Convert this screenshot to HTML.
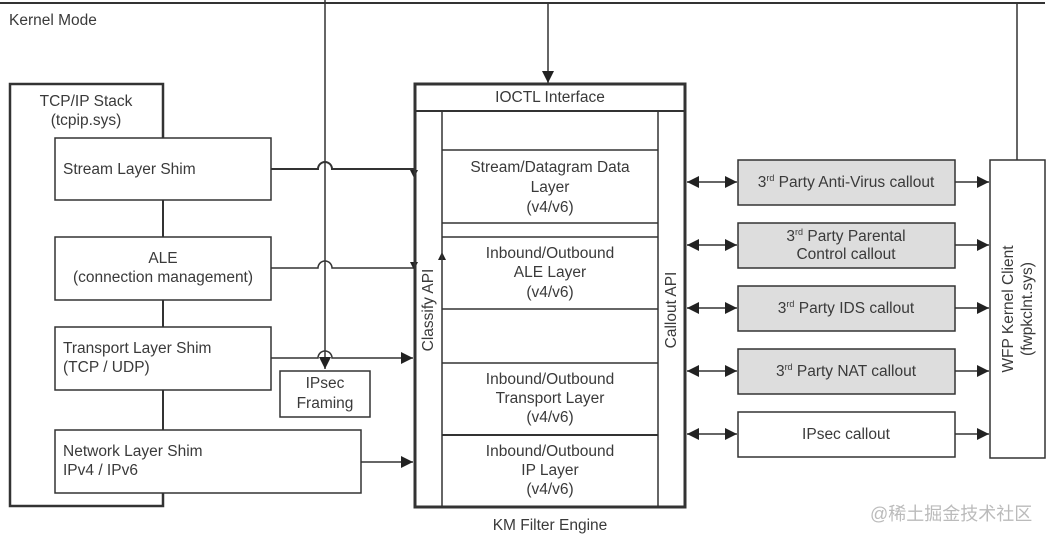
<!DOCTYPE html>
<html><head><meta charset="utf-8"><style>
html,body{margin:0;padding:0;background:#fff;width:1049px;height:541px;overflow:hidden}
svg text{font-family:"Liberation Sans","Noto Sans CJK SC",sans-serif;fill:#3a3a3a;font-size:15.5px}
</style></head><body>
<svg width="1049" height="541" viewBox="0 0 1049 541" xmlns="http://www.w3.org/2000/svg">
<defs>
<marker id="a" viewBox="0 0 10 10" refX="10" refY="5" markerWidth="8" markerHeight="8" orient="auto-start-reverse"><path d="M0,0L10,5L0,10z" fill="#222"/></marker>
</defs>
<g stroke="#333" fill="none">
<line x1="0" y1="3" x2="1045" y2="3" stroke-width="2"/>
<path d="M163,138V84H10V506H163V493" stroke-width="2.5"/>
<line x1="163" y1="200" x2="163" y2="237" stroke-width="2"/>
<line x1="163" y1="300" x2="163" y2="327" stroke-width="2"/>
<line x1="163" y1="390" x2="163" y2="430" stroke-width="2"/>
<rect x="55" y="138" width="216" height="62" stroke-width="1.5"/>
<rect x="55" y="237" width="216" height="63" stroke-width="1.5"/>
<rect x="55" y="327" width="216" height="63" stroke-width="1.5"/>
<rect x="280" y="371" width="90" height="46" stroke-width="1.5"/>
<rect x="55" y="430" width="306" height="63" stroke-width="1.5"/>
<line x1="325" y1="0" x2="325" y2="369" stroke-width="1.5" marker-end="url(#a)"/>
<line x1="548" y1="3" x2="548" y2="83" stroke-width="1.5" marker-end="url(#a)"/>
<line x1="1017" y1="3" x2="1017" y2="160" stroke-width="1.5"/>
<path d="M271,169H318A7,7 0 0 1 332,169H414" stroke-width="2"/>
<path d="M271,268H318A7,7 0 0 1 332,268H414" stroke-width="1.5"/>
<path d="M271,358H318A7,7 0 0 1 332,358H413" stroke-width="1.5" marker-end="url(#a)"/>
<line x1="361" y1="462" x2="413" y2="462" stroke-width="1.5" marker-end="url(#a)"/>
<line x1="414" y1="169" x2="414" y2="178" stroke-width="1" marker-end="url(#a)"/>
<line x1="414" y1="262" x2="414" y2="270" stroke-width="1" marker-end="url(#a)"/>
<line x1="442" y1="272" x2="442" y2="252" stroke-width="1" marker-end="url(#a)"/>
<rect x="415" y="84" width="270" height="423" stroke-width="3"/>
<line x1="415" y1="111" x2="685" y2="111" stroke-width="2"/>
<line x1="442" y1="111" x2="442" y2="507" stroke-width="1.5"/>
<line x1="658" y1="111" x2="658" y2="507" stroke-width="1.5"/>
<line x1="442" y1="150" x2="658" y2="150" stroke-width="1.5"/>
<line x1="442" y1="223" x2="658" y2="223" stroke-width="1.5"/>
<line x1="442" y1="237" x2="658" y2="237" stroke-width="1.5"/>
<line x1="442" y1="309" x2="658" y2="309" stroke-width="1.5"/>
<line x1="442" y1="363" x2="658" y2="363" stroke-width="1.5"/>
<line x1="442" y1="435" x2="658" y2="435" stroke-width="2"/>
<g stroke-width="1.5">
<rect x="738" y="160" width="217" height="45" fill="#ddd"/>
<rect x="738" y="223" width="217" height="45" fill="#ddd"/>
<rect x="738" y="286" width="217" height="45" fill="#ddd"/>
<rect x="738" y="349" width="217" height="45" fill="#ddd"/>
<rect x="738" y="412" width="217" height="45" fill="#fff"/>
<rect x="990" y="160" width="55" height="298" fill="#fff"/>
</g>
<g stroke-width="1.5">
<line x1="687" y1="182" x2="737" y2="182" marker-start="url(#a)" marker-end="url(#a)"/>
<line x1="687" y1="245" x2="737" y2="245" marker-start="url(#a)" marker-end="url(#a)"/>
<line x1="687" y1="308" x2="737" y2="308" marker-start="url(#a)" marker-end="url(#a)"/>
<line x1="687" y1="371" x2="737" y2="371" marker-start="url(#a)" marker-end="url(#a)"/>
<line x1="687" y1="434" x2="737" y2="434" marker-start="url(#a)" marker-end="url(#a)"/>
<line x1="955" y1="182" x2="989" y2="182" marker-end="url(#a)"/>
<line x1="955" y1="245" x2="989" y2="245" marker-end="url(#a)"/>
<line x1="955" y1="308" x2="989" y2="308" marker-end="url(#a)"/>
<line x1="955" y1="371" x2="989" y2="371" marker-end="url(#a)"/>
<line x1="955" y1="434" x2="989" y2="434" marker-end="url(#a)"/>
</g>
</g>
<text x="9" y="25">Kernel Mode</text>
<text x="86" y="106" text-anchor="middle">TCP/IP Stack</text>
<text x="86" y="125" text-anchor="middle">(tcpip.sys)</text>
<text x="63" y="174">Stream Layer Shim</text>
<text x="163" y="263" text-anchor="middle">ALE</text>
<text x="163" y="282" text-anchor="middle">(connection management)</text>
<text x="63" y="353">Transport Layer Shim</text>
<text x="63" y="372">(TCP / UDP)</text>
<text x="325" y="388" text-anchor="middle">IPsec</text>
<text x="325" y="408" text-anchor="middle">Framing</text>
<text x="63" y="456">Network Layer Shim</text>
<text x="63" y="475">IPv4 / IPv6</text>
<text x="550" y="102" text-anchor="middle">IOCTL Interface</text>
<text x="550" y="172" text-anchor="middle">Stream/Datagram Data</text>
<text x="550" y="192" text-anchor="middle">Layer</text>
<text x="550" y="212" text-anchor="middle">(v4/v6)</text>
<text x="550" y="258" text-anchor="middle">Inbound/Outbound</text>
<text x="550" y="277" text-anchor="middle">ALE Layer</text>
<text x="550" y="297" text-anchor="middle">(v4/v6)</text>
<text x="550" y="384" text-anchor="middle">Inbound/Outbound</text>
<text x="550" y="403" text-anchor="middle">Transport Layer</text>
<text x="550" y="422" text-anchor="middle">(v4/v6)</text>
<text x="550" y="456" text-anchor="middle">Inbound/Outbound</text>
<text x="550" y="475" text-anchor="middle">IP Layer</text>
<text x="550" y="494" text-anchor="middle">(v4/v6)</text>
<text x="550" y="530" text-anchor="middle">KM Filter Engine</text>
<text transform="translate(433,310) rotate(-90)" text-anchor="middle">Classify API</text>
<text transform="translate(676,310) rotate(-90)" text-anchor="middle">Callout API</text>
<text x="846" y="187" text-anchor="middle">3<tspan font-size="9" dy="-6">rd</tspan><tspan dy="6"> Party Anti-Virus callout</tspan></text>
<text x="846" y="241" text-anchor="middle">3<tspan font-size="9" dy="-6">rd</tspan><tspan dy="6"> Party Parental</tspan></text>
<text x="846" y="259" text-anchor="middle">Control callout</text>
<text x="846" y="313" text-anchor="middle">3<tspan font-size="9" dy="-6">rd</tspan><tspan dy="6"> Party IDS callout</tspan></text>
<text x="846" y="376" text-anchor="middle">3<tspan font-size="9" dy="-6">rd</tspan><tspan dy="6"> Party NAT callout</tspan></text>
<text x="846" y="439" text-anchor="middle">IPsec callout</text>
<text transform="translate(1013,309) rotate(-90)" text-anchor="middle">WFP Kernel Client</text>
<text transform="translate(1032,309) rotate(-90)" text-anchor="middle">(fwpkclnt.sys)</text>
<text x="870" y="520" style="fill:#bbb;font-size:18px">@稀土掘金技术社区</text>
</svg>
</body></html>
